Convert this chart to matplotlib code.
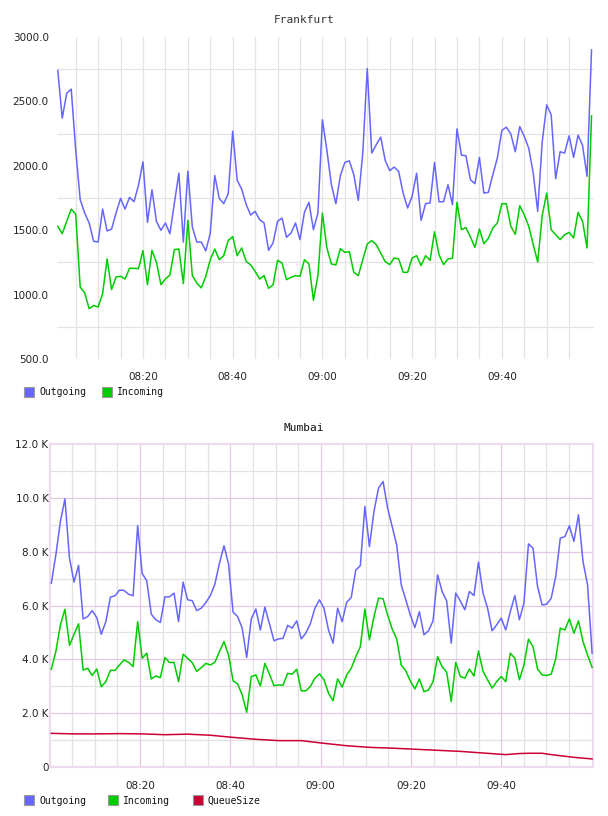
import numpy as np
import matplotlib
matplotlib.use('Agg')
import matplotlib.pyplot as plt
from matplotlib.patches import Rectangle

# minutes after 08:00
fra_minutes = np.arange(1, 121)
fra_out = [2740, 2370, 2564, 2595, 2124, 1737, 1633, 1556, 1414, 1408,
           1664, 1494, 1509, 1633, 1747, 1664, 1755, 1721, 1850, 2031,
           1561, 1814, 1569, 1499, 1556, 1473, 1711, 1943, 1408, 1959,
           1525, 1408, 1408, 1339, 1478, 1925, 1747, 1706, 1783, 2269,
           1887, 1819, 1700, 1618, 1646, 1582, 1556, 1344, 1401, 1569,
           1594, 1445, 1478, 1556, 1427, 1641, 1716, 1504, 1633, 2357,
           2120, 1853, 1706, 1923, 2026, 2039, 1931, 1732, 2099, 2755,
           2099, 2163, 2223, 2042, 1962, 1990, 1956, 1788, 1672, 1763,
           1943, 1576, 1706, 1711, 2026, 1721, 1721, 1853, 1698, 2287,
           2083, 2078, 1892, 1861, 2065, 1788, 1794, 1931, 2060, 2274,
           2300, 2248, 2109, 2305, 2228, 2137, 1943, 1646, 2184, 2473,
           2396, 1900, 2109, 2099, 2233, 2065, 2238, 2158, 1918, 2900]
fra_in = [1530, 1473, 1569, 1664, 1625, 1059, 1013, 891, 915, 904,
          1008, 1277, 1039, 1137, 1142, 1121, 1204, 1204, 1202, 1341,
          1077, 1344, 1251, 1077, 1121, 1152, 1349, 1354, 1085, 1576,
          1147, 1090, 1052, 1142, 1271, 1354, 1271, 1302, 1421, 1450,
          1302, 1362, 1258, 1230, 1181, 1121, 1147, 1049, 1075, 1266,
          1245, 1116, 1134, 1147, 1142, 1271, 1238, 956, 1147, 1633,
          1362, 1238, 1230, 1357, 1328, 1333, 1173, 1147, 1271, 1393,
          1419, 1388, 1323, 1256, 1233, 1284, 1277, 1173, 1173, 1284,
          1302, 1225, 1302, 1266, 1488, 1310, 1233, 1277, 1282, 1716,
          1504, 1520, 1447, 1367, 1509, 1395, 1437, 1517, 1556, 1706,
          1706, 1530, 1468, 1690, 1620, 1530, 1388, 1253, 1613, 1788,
          1504, 1465, 1427, 1465, 1483, 1440, 1638, 1569, 1362, 2388]

mum_minutes = np.linspace(0.36, 120.1, 120)
mum_out = [6.83, 7.88, 9.12, 9.96, 7.76, 6.87, 7.49, 5.50, 5.59, 5.81,
           5.55, 4.93, 5.40, 6.31, 6.36, 6.57, 6.56, 6.42, 6.36, 8.97,
           7.19, 6.92, 5.68, 5.47, 5.37, 6.32, 6.32, 6.46, 5.40, 6.87,
           6.21, 6.18, 5.81, 5.90, 6.11, 6.37, 6.80, 7.57, 8.22, 7.54,
           5.75, 5.59, 5.16, 4.07, 5.50, 5.87, 5.09, 5.94, 5.32, 4.69,
           4.76, 4.78, 5.26, 5.16, 5.43, 4.76, 4.97, 5.32, 5.90, 6.21,
           5.90, 5.09, 4.60, 5.90, 5.40, 6.12, 6.30, 7.32, 7.48, 9.68,
           8.19, 9.49, 10.36, 10.61, 9.62, 8.94, 8.25, 6.77, 6.21, 5.65,
           5.18, 5.77, 4.91, 5.06, 5.43, 7.14, 6.52, 6.17, 4.60, 6.46,
           6.17, 5.84, 6.52, 6.37, 7.61, 6.46, 5.90, 5.06, 5.28, 5.53,
           5.09, 5.77, 6.37, 5.47, 6.09, 8.29, 8.13, 6.70, 6.02, 6.05,
           6.27, 7.08, 8.50, 8.56, 8.96, 8.38, 9.37, 7.63, 6.77, 4.23]
mum_in = [3.63, 4.29, 5.28, 5.86, 4.52, 4.93, 5.32, 3.60, 3.67, 3.40,
          3.64, 2.98, 3.17, 3.59, 3.59, 3.79, 3.98, 3.89, 3.73, 5.40,
          4.04, 4.23, 3.27, 3.38, 3.32, 4.07, 3.88, 3.89, 3.17, 4.19,
          4.04, 3.88, 3.55, 3.69, 3.85, 3.79, 3.89, 4.29, 4.66, 4.16,
          3.20, 3.09, 2.68, 2.03, 3.36, 3.42, 3.01, 3.85, 3.45, 3.02,
          3.05, 3.04, 3.48, 3.45, 3.63, 2.83, 2.83, 2.99, 3.30, 3.46,
          3.24, 2.74, 2.46, 3.27, 2.97, 3.42, 3.67, 4.10, 4.47, 5.87,
          4.72, 5.59, 6.27, 6.25, 5.65, 5.13, 4.76, 3.79, 3.57, 3.20,
          2.90, 3.27, 2.80, 2.86, 3.17, 4.10, 3.73, 3.52, 2.43, 3.89,
          3.36, 3.30, 3.64, 3.38, 4.31, 3.55, 3.24, 2.93, 3.17, 3.36,
          3.17, 4.23, 4.04, 3.24, 3.79, 4.75, 4.47, 3.64, 3.42, 3.40,
          3.45, 4.02, 5.16, 5.09, 5.50, 4.97, 5.43, 4.66, 4.16, 3.70]
# queue size sampled at these sample indices of the Mumbai series
queue_idx = [0, 5, 10, 15, 20, 25, 30, 35, 40, 45, 50, 55, 60, 65, 70, 75,
             80, 85, 90, 95, 100, 103, 105, 108, 110, 115, 119]
queue_size = [1.25, 1.23, 1.23, 1.24, 1.23, 1.20, 1.22, 1.18, 1.10, 1.03,
              0.98, 0.98, 0.88, 0.79, 0.73, 0.70, 0.66, 0.62, 0.58, 0.52,
              0.46, 0.50, 0.51, 0.51, 0.46, 0.36, 0.30]

time_ticks = [20, 40, 60, 80, 100]
time_labels = ['08:20', '08:40', '09:00', '09:20', '09:40']
fra_yticks = [500, 1000, 1500, 2000, 2500, 3000]
mum_yticks = [0, 2, 4, 6, 8, 10, 12]
mum_ylabels = ['0', '2.0 K', '4.0 K', '6.0 K', '8.0 K', '10.0 K', '12.0 K']

BLUE = '#6666ff'
GREEN = '#00cc00'
RED = '#cc0033'
W, H = 608.0, 816.0
MONO = 'DejaVu Sans Mono'

fig = plt.figure(figsize=(6.08, 8.16), dpi=100)
fig.patch.set_facecolor('white')


def pxaxes(x0, y0, x1, y1):
  return fig.add_axes([x0 / W, 1 - y1 / H, (x1 - x0) / W, (y1 - y0) / H])


def legend(y, items):
  for x, color, label in items:
    fig.add_artist(Rectangle((x / W, 1 - (y + 10) / H), 10 / W, 10 / H,
                             transform=fig.transFigure, facecolor=color,
                             edgecolor='#999999', lw=0.8))
    fig.text((x + 15) / W, 1 - (y + 5.5) / H, label, family=MONO, size=7,
             color='#111111', va='center', ha='left')


# ---- Frankfurt
ax = pxaxes(57, 37, 594, 359)
for m in range(5, 120, 5):
  ax.axvline(m, color='#e4e4e4', lw=0.9, zorder=0)
for v in (750, 1250, 1750, 2250, 2750):
  ax.axhline(v, color='#e4e4e4', lw=0.9, zorder=0)
ax.plot(fra_minutes, fra_out, color=BLUE, lw=1.1)
ax.plot(fra_minutes, fra_in, color=GREEN, lw=1.1)
ax.set_xlim(0.83, 120.55)
ax.set_ylim(500, 3000)
ax.set_xticks(time_ticks, time_labels)
ax.set_yticks(fra_yticks, ['%.1f' % v for v in fra_yticks])
for s in ax.spines.values():
  s.set_visible(False)
ax.tick_params(length=0, labelsize=7.5, colors='#222222')
ax.tick_params(axis='x', pad=9)
ax.tick_params(axis='y', pad=6)
fig.text(304 / W, 1 - 20 / H, 'Frankfurt', family=MONO, size=8,
         color='#333333', ha='center', va='center')
legend(387, [(24, BLUE, 'Outgoing'), (102, GREEN, 'Incoming')])

# ---- Mumbai
ax = pxaxes(50, 444, 593, 767)
for m in range(5, 120, 5):
  major = m % 20 == 0
  ax.axvline(m, color='#e2c8e2' if major else '#e2e2e2', lw=0.9,
             zorder=1 if major else 0)
for v in range(1, 12):
  major = v % 2 == 0
  ax.axhline(v, color='#e2c8e2' if major else '#e2e2e2', lw=0.9,
             zorder=1 if major else 0)
ax.plot(mum_minutes, mum_out, color=BLUE, lw=1.1, zorder=3)
ax.plot(mum_minutes, mum_in, color=GREEN, lw=1.1, zorder=3)
ax.plot(mum_minutes[queue_idx], queue_size, color=RED, lw=1.1, zorder=3)
ax.set_xlim(0.07, 120.3)
ax.set_ylim(0, 12)
ax.set_xticks(time_ticks, time_labels)
ax.set_yticks(mum_yticks, mum_ylabels)
for s in ax.spines.values():
  s.set_color('#eedcee')
  s.set_linewidth(1.6)
ax.tick_params(length=0, labelsize=7.5, colors='#222222')
ax.tick_params(axis='x', pad=10)
ax.tick_params(axis='y', pad=1)
fig.text(304 / W, 1 - 428 / H, 'Mumbai', family=MONO, size=8,
         color='#111111', ha='center', va='center')
legend(795, [(24, BLUE, 'Outgoing'), (108, GREEN, 'Incoming'),
             (193, RED, 'QueueSize')])

fig.savefig('out.png', dpi=100)
